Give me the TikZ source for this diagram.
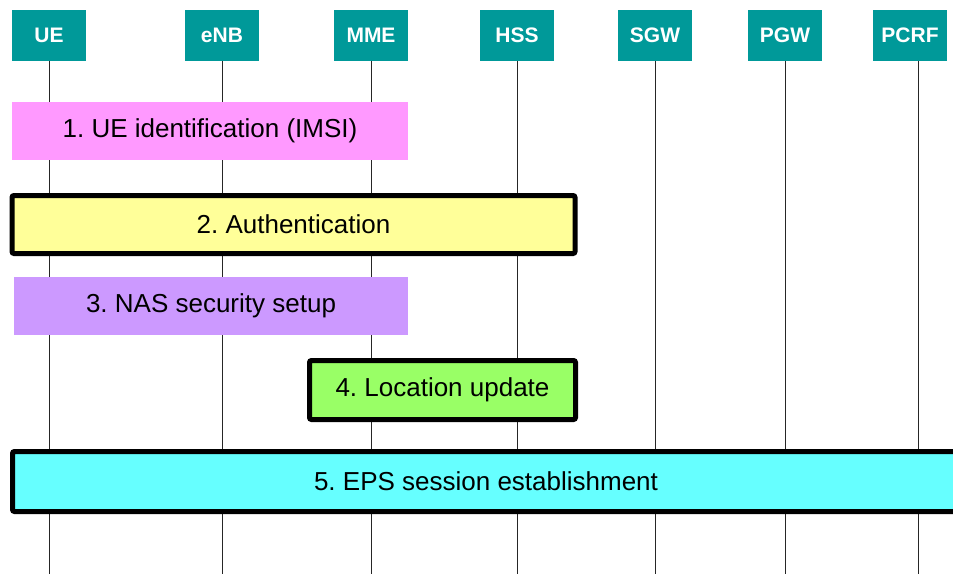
\documentclass[tikz,border=0pt]{standalone}
\usepackage{fontspec}
\setmainfont{Liberation Sans}
\usepackage{tikz}
\usetikzlibrary{positioning}
\definecolor{hdr}{HTML}{009999}
\definecolor{pinkbox}{HTML}{FF99FF}
\definecolor{yellowbox}{HTML}{FFFF99}
\definecolor{purplebox}{HTML}{CC99FF}
\definecolor{greenbox}{HTML}{99FF66}
\definecolor{cyanbox}{HTML}{66FFFF}
\frenchspacing

\begin{document}
\begin{tikzpicture} [x = 1pt, y = -1pt,
  ent/.style = {fill = hdr, text = white, font = \bfseries\fontsize{21}{24}\selectfont, minimum width = 74pt, minimum height = 51pt, inner sep = 0pt},
  life/.style = {draw = black!85, line width = .8pt},
  flat/.style = {font = \fontsize{26}{30}\selectfont, inner sep = 0pt},
  thick box/.style = {flat, draw = black, line width = 5pt, rounded corners = 2pt}]
\useasboundingbox (0,0) rectangle (953,574);
\clip (0,0) rectangle (953,574);
\coordinate (bot) at (0,574);
\node[ent] (y1) at (49,35.5) {UE};
\node[ent] (y2) at (222,35.5) {eNB};
\node[ent] (y3) at (371,35.5) {MME};
\node[ent] (y4) at (517,35.5) {HSS};
\node[ent] (y5) at (655,35.5) {SGW};
\node[ent] (y6) at (785,35.5) {PGW};
\node[ent] (y7) at (910,35.5) {PCRF};
\draw[life] (y1.south) -- (y1 |- bot);
\draw[life] (y2.south) -- (y2 |- bot);
\draw[life] (y3.south) -- (y3 |- bot);
\draw[life] (y4.south) -- (y4 |- bot);
\draw[life] (y5.south) -- (y5 |- bot);
\draw[life] (y6.south) -- (y6 |- bot);
\draw[life] ([xshift=8pt]y7.south) -- ([xshift=8pt]y7.south |- bot);
\node[flat, fill = pinkbox, minimum width = 396pt, minimum height = 58pt] (p1) at (210,131) {1. UE identification (IMSI)};
\node[thick box, fill = yellowbox, minimum width = 563pt, minimum height = 58pt] (p2) at (293.5,224.5) {2. Authentication};
\node[flat, fill = purplebox, minimum width = 394pt, minimum height = 58pt] (p3) at (211,306) {3. NAS security setup};
\node[thick box, fill = greenbox, minimum width = 266pt, minimum height = 59pt] (p4) at (442.5,390) {4. Location update};
\node[thick box, fill = cyanbox, minimum width = 947pt, minimum height = 60pt] (p5) at (486,481.5) {5. EPS session establishment};
\end{tikzpicture}
\end{document}
